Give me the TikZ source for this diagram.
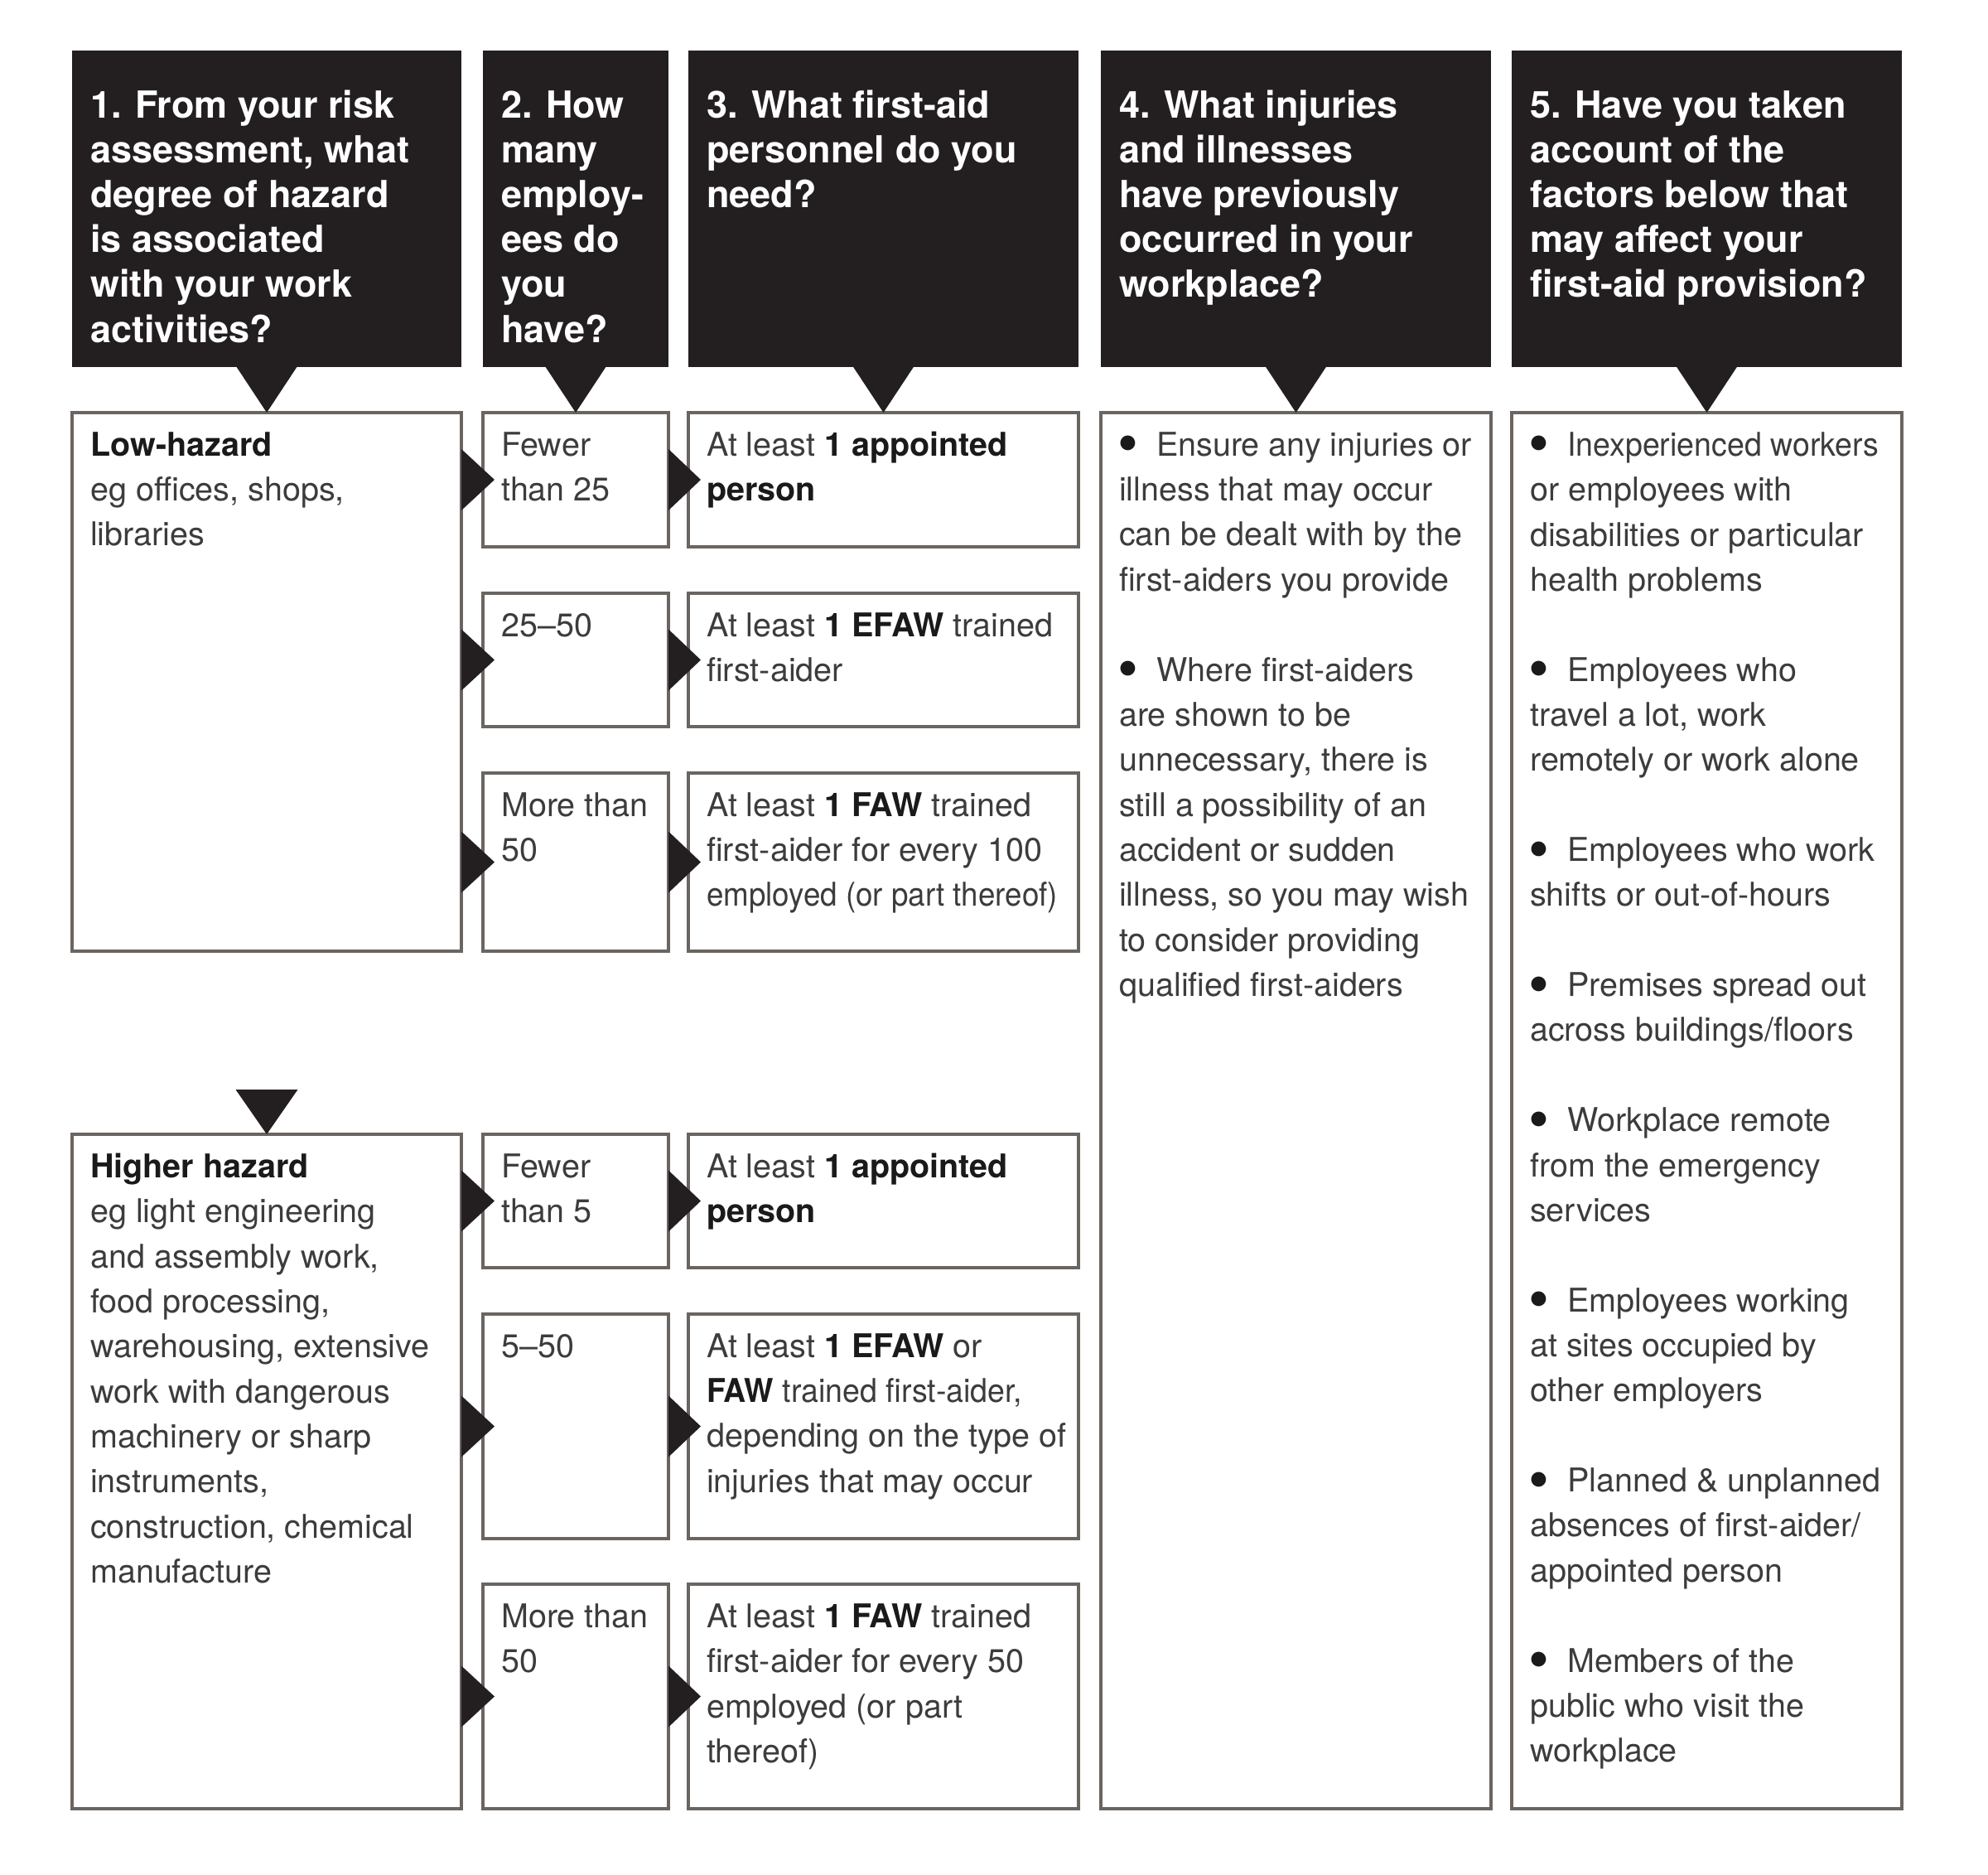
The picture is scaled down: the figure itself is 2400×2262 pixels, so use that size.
\documentclass[tikz,border=0pt]{standalone}
\usepackage{fontspec}
\setmainfont{TeX Gyre Heros}
\newfontfamily\condfont[FakeStretch=0.93]{TeX Gyre Heros}
\newfontfamily\semifont[FakeStretch=0.95]{TeX Gyre Heros}
\usetikzlibrary{calc}
\definecolor{hdrc}{HTML}{231F20}
\definecolor{linec}{HTML}{6A6561}
\definecolor{txtc}{HTML}{3C3C3C}
\definecolor{boldc}{HTML}{1A1A1A}
\newcommand\hdfont{\fontsize{45}{54.2}\selectfont\bfseries}
\newcommand\bdfont{\fontsize{39.5}{54.36}\selectfont}
\newcommand\myb[1]{\textcolor{boldc}{\bfseries #1}}
\newcommand\mybul{\makebox[45pt][l]{\hspace{-2pt}\raisebox{-9.5pt}{\textcolor{boldc}{\scalebox{1.8}{\textbullet}}}}}
\begin{document}
\begin{tikzpicture}[x=1pt,y=-1pt,
  hdr/.style={fill=hdrc, inner sep=0pt, outer sep=0pt, anchor=north west, minimum height=382pt},
  cell/.style={draw=linec, line width=3.5pt, fill=white, inner sep=0pt, outer sep=0pt, anchor=north west},
  htxt/.style={anchor=north west, inner sep=0pt, align=left, text=white, font=\hdfont},
  btxt/.style={anchor=north west, inner sep=0pt, align=left, text=txtc, font=\bdfont},
  pointer/.style={fill=hdrc}]
\useasboundingbox (0,0) rectangle (2400,2262);
\fill[white] (0,0) rectangle (2400,2262);

% headers
\node[hdr, minimum width=470pt] (h1) at (87,61) {};
\node[hdr, minimum width=224pt] (h2) at (583,61) {};
\node[hdr, minimum width=471pt] (h3) at (831,61) {};
\node[hdr, minimum width=471pt] (h4) at (1329,61) {};
\node[hdr, minimum width=471pt] (h5) at (1825,61) {};

\node[htxt] (ht1) at ($(h1.north west)+(22,43)$) {\strut 1. From your risk\\assessment, what\\degree of hazard\\is associated\\with your work\\activities?};
\node[htxt] (ht2) at ($(h2.north west)+(22,43)$) {\strut 2. How\\many\\employ-\\ees do\\you\\have?};
\node[htxt] (ht3) at ($(h3.north west)+(22,43)$) {\strut 3. What first-aid\\personnel do you\\need?};
\node[htxt] (ht4) at ($(h4.north west)+(22,43)$) {\strut 4. What injuries\\and illnesses\\have previously\\occurred in your\\workplace?};
\node[htxt] (ht5) at ($(h5.north west)+(22,43)$) {\strut 5. Have you taken\\account of the\\factors below that\\may affect your\\first-aid provision?};

% low hazard section
\node[cell, minimum width=470pt, minimum height=650pt] (lb) at (87,498) {};
\node[cell, minimum width=224pt, minimum height=162pt] (r1) at (583,498) {};
\node[cell, minimum width=224pt, minimum height=161pt] (r2) at (583,716) {};
\node[cell, minimum width=224pt, minimum height=215pt] (r3) at (583,933) {};
\node[cell, minimum width=471pt, minimum height=162pt] (p1) at (831,498) {};
\node[cell, minimum width=471pt, minimum height=161pt] (p2) at (831,716) {};
\node[cell, minimum width=471pt, minimum height=215pt] (p3) at (831,933) {};

% higher hazard section
\node[cell, minimum width=470pt, minimum height=814pt] (hb) at (87,1369) {};
\node[cell, minimum width=224pt, minimum height=161pt] (s1) at (583,1369) {};
\node[cell, minimum width=224pt, minimum height=271pt] (s2) at (583,1586) {};
\node[cell, minimum width=224pt, minimum height=271pt] (s3) at (583,1912) {};
\node[cell, minimum width=471pt, minimum height=161pt] (q1) at (831,1369) {};
\node[cell, minimum width=471pt, minimum height=271pt] (q2) at (831,1586) {};
\node[cell, minimum width=471pt, minimum height=271pt] (q3) at (831,1912) {};

% columns 4 and 5
\node[cell, minimum width=471pt, minimum height=1685pt] (i4) at (1329,498) {};
\node[cell, minimum width=471pt, minimum height=1685pt] (f5) at (1825,498) {};

% texts
\node[btxt] (tlb) at ($(lb.north west)+(22,14)$) {\strut\myb{Low-hazard}\\eg offices, shops,\\libraries};
\node[btxt] (tr1) at ($(r1.north west)+(22,14)$) {\strut Fewer\\than 25};
\node[btxt] (tr2) at ($(r2.north west)+(22,14)$) {\strut 25–50};
\node[btxt] (tr3) at ($(r3.north west)+(22,14)$) {\strut More than\\50};
\node[btxt] (tp1) at ($(p1.north west)+(22,14)$) {\strut At least \myb{1 appointed}\\\myb{person}};
\node[btxt] (tp2) at ($(p2.north west)+(22,14)$) {\strut At least \myb{1 EFAW} trained\\first-aider};
\node[btxt] (tp3) at ($(p3.north west)+(22,14)$) {\strut At least \myb{1 FAW} trained\\first-aider for every 100\\{\condfont employed (or part thereof)}};

\node[btxt] (thb) at ($(hb.north west)+(22,14)$) {\strut\myb{Higher hazard}\\eg light engineering\\and assembly work,\\food processing,\\warehousing, extensive\\work with dangerous\\machinery or sharp\\instruments,\\construction, chemical\\manufacture};
\node[btxt] (ts1) at ($(s1.north west)+(22,14)$) {\strut Fewer\\than 5};
\node[btxt] (ts2) at ($(s2.north west)+(22,14)$) {\strut 5–50};
\node[btxt] (ts3) at ($(s3.north west)+(22,14)$) {\strut More than\\50};
\node[btxt] (tq1) at ($(q1.north west)+(22,14)$) {\strut At least \myb{1 appointed}\\\myb{person}};
\node[btxt] (tq2) at ($(q2.north west)+(22,14)$) {\strut At least \myb{1 EFAW} or\\{\semifont\myb{FAW} trained first-aider,}\\depending on the type of\\injuries that may occur};
\node[btxt] (tq3) at ($(q3.north west)+(22,14)$) {\strut At least \myb{1 FAW} trained\\first-aider for every 50\\employed (or part\\thereof)};

\node[btxt] (ti4) at ($(i4.north west)+(22,14)$) {\strut\mybul Ensure any injuries or\\illness that may occur\\can be dealt with by the\\first-aiders you provide\\[54.36pt]\mybul Where first-aiders\\are shown to be\\unnecessary, there is\\still a possibility of an\\accident or sudden\\illness, so you may wish\\to consider providing\\qualified first-aiders};

\node[btxt] (tf5) at ($(f5.north west)+(22,14)$) {\strut\mybul{\semifont Inexperienced workers}\\or employees with\\disabilities or particular\\health problems\\[54.36pt]\mybul Employees who\\travel a lot, work\\remotely or work alone\\[54.36pt]\mybul Employees who work\\shifts or out-of-hours\\[54.36pt]\mybul Premises spread out\\across buildings/floors\\[54.36pt]\mybul Workplace remote\\from the emergency\\services\\[54.36pt]\mybul Employees working\\at sites occupied by\\other employers\\[54.36pt]\mybul Planned \& unplanned\\absences of first-aider/\\appointed person\\[54.36pt]\mybul Members of the\\public who visit the\\workplace};

% header pointers
\foreach \h/\b in {h1/lb, h2/r1, h3/p1, h4/i4, h5/f5}{
  \fill[pointer] ($(\h.south)+(-37,-1)$) -- ($(\h.south)+(37,-1)$) -- (\b.north) -- cycle;
}
% higher hazard pointer
\fill[pointer] ($(hb.north)+(-37.5,-54)$) -- ($(hb.north)+(37.5,-54)$) -- (hb.north) -- cycle;

% side pointers
\foreach \r/\p in {r1/p1, r2/p2, r3/p3, s1/q1, s2/q2, s3/q3}{
  \fill[pointer] ($(\r.west)+(-26,-37)$) -- ($(\r.west)+(-26,37)$) -- ($(\r.west)+(14,0)$) -- cycle;
  \fill[pointer] ($(\r.east)+(0,-37)$) -- ($(\r.east)+(0,37)$) -- ($(\p.west)+(15,0)$) -- cycle;
}
\end{tikzpicture}
\end{document}
